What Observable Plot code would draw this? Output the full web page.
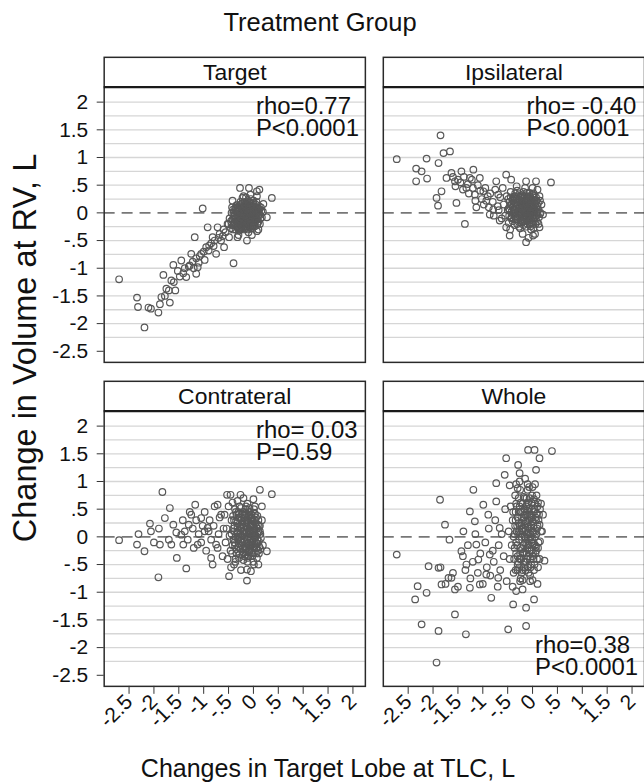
<!DOCTYPE html>
<html><head><meta charset="utf-8">
<script src="https://cdn.jsdelivr.net/npm/d3@7"></script>
<script src="https://cdn.jsdelivr.net/npm/@observablehq/plot@0.6"></script>
<style>
html,body{margin:0;padding:0;background:#fff;overflow:hidden;}
#wrap{position:relative;width:644px;height:783px;overflow:hidden;font-family:"Liberation Sans",Arial,sans-serif;color:#111;background:#fff;}
#chart{position:absolute;left:0;top:0;}
.lab{position:absolute;white-space:nowrap;line-height:1;}
#title{left:320px;top:10px;font-size:25.5px;transform:translateX(-50%);}
#xlab{left:328px;top:756px;font-size:25px;transform:translateX(-50%);}
#ylab{left:25px;top:348px;font-size:32.5px;transform:translate(-50%,-50%) rotate(-90deg);}
</style></head><body>
<div id="wrap">
  <div id="chart"></div>
  <div class="lab" id="title">Treatment Group</div>
  <div class="lab" id="xlab">Changes in Target Lobe at TLC, L</div>
  <div class="lab" id="ylab">Change in Volume at RV, L</div>
</div>
<script>
// ---- Panels (facets) ----
const panelNames = ["Target", "Ipsilateral", "Contrateral", "Whole"];
const panelCols = [0, 1, 0, 1];
const panelRows = [0, 0, 1, 1];
const rhoText = ["rho=0.77", "rho= -0.40", "rho= 0.03", "rho=0.38"];
const pText = ["P<0.0001", "P<0.0001", "P=0.59", "P<0.0001"];

// ---- Axis ticks ----
const yTicks = [-2.5, -2, -1.5, -1, -0.5, 0, 0.5, 1, 1.5, 2];
const yTickLabels = ["-2.5", "-2", "-1.5", "-1", "-.5", "0", ".5", "1", "1.5", "2"];
const xTicks = [-2.5, -2, -1.5, -1, -0.5, 0, 0.5, 1, 1.5, 2];
const xTickLabels = ["-2.5", "-2", "-1.5", "-1", "-.5", "0", ".5", "1", "1.5", "2"];

// ---- Points [x = change in target lobe at TLC, y = change in volume at RV] ----
const targetPts = [
[-2.70,-1.20],[-2.34,-1.53],[-2.32,-1.70],[-2.19,-2.07],[-2.11,-1.71],[-2.06,-1.73],[-1.91,-1.80],[-1.88,-1.65],
[-1.85,-1.52],[-1.81,-1.12],[-1.75,-1.37],[-1.68,-1.62],[-1.65,-1.22],[-1.61,-0.94],[-1.57,-1.40],[-1.45,-0.86],
[-1.41,-1.09],[-1.35,-1.16],[-1.30,-0.97],[-1.25,-0.74],[-1.18,-0.44],[-1.15,-1.10],[-1.12,-0.98],[-1.05,-0.74],
[-1.02,0.08],[-0.92,-0.26],[-0.89,-0.59],[-0.82,-0.44],[-0.75,-0.74],[-0.72,-0.26],[-0.65,-0.50],[-0.59,-0.62],
[-0.52,-0.20],[-0.49,-0.44],[-0.40,-0.91],[-0.42,0.22],[-0.32,-0.44],[-0.27,0.45],[-0.22,0.27],[-0.09,0.45],
[-0.06,0.33],[0.07,0.39],[0.12,0.42],[0.20,0.16],[0.37,0.27],[0.27,-0.08],[-0.13,-0.50],[-0.03,-0.40],[0.07,-0.33],
[-1.28,-0.95],[-1.22,-0.88],[-1.15,-0.82],[-1.08,-0.78],[-1.00,-0.70],[-0.95,-0.62],[-0.90,-0.68],[-0.85,-0.55],
[-0.80,-0.60],[-0.78,-0.50],[-0.70,-0.45],[-0.68,-0.38],[-0.62,-0.42],[-0.60,-0.30],[-0.56,-0.35],[-1.38,-1.00],
[-1.48,-1.15],[-1.52,-1.05],[-1.60,-1.25],[-1.70,-1.40],[-1.78,-1.50],[-1.20,-1.00],[-1.10,-0.90],[-0.98,-0.85],
[-0.50,-0.20],[-0.45,-0.28],[-0.42,-0.12],[-0.40,-0.22],[-0.38,-0.05],[-0.36,-0.30],[-0.35,-0.15],[-0.33,0.02],
[-0.32,-0.24],[-0.30,-0.10],[-0.29,-0.32],[-0.28,0.08],[-0.27,-0.18],[-0.25,-0.04],[-0.24,-0.26],[-0.23,0.12],
[-0.22,-0.12],[-0.21,0.00],[-0.20,-0.20],[-0.19,-0.30],[-0.18,0.05],[-0.17,-0.08],[-0.16,0.15],[-0.15,-0.16],
[-0.14,-0.02],[-0.13,-0.24],[-0.12,0.10],[-0.11,-0.10],[-0.10,0.02],[-0.09,-0.18],[-0.08,0.18],[-0.07,-0.05],
[-0.06,-0.28],[-0.05,0.08],[-0.04,-0.14],[-0.03,0.00],[-0.02,-0.22],[-0.01,0.12],[0.00,-0.08],[0.02,0.05],
[0.03,-0.18],[0.05,0.15],[0.06,-0.04],[0.08,-0.12],[0.09,0.08],[0.11,-0.02],[0.13,-0.20],[0.15,0.10],
[0.17,-0.08],[0.19,0.02],[-0.26,0.20],[-0.35,0.10],[-0.44,0.00],[-0.48,-0.10],[-0.05,0.25],[0.00,0.22],
[-0.15,0.28],[-0.10,-0.35],[0.10,-0.30],[-0.30,-0.40],[-0.20,0.30],[0.07,0.30],
[-0.38,-0.18],[-0.36,0.04],[-0.34,-0.08],[-0.31,-0.20],[-0.30,0.05],[-0.28,-0.12],[-0.26,-0.22],[-0.25,0.10],
[-0.23,-0.06],[-0.22,0.04],[-0.20,-0.14],[-0.19,0.10],[-0.18,-0.24],[-0.17,0.00],[-0.16,-0.10],[-0.15,0.06],
[-0.14,-0.20],[-0.13,0.14],[-0.12,-0.04],[-0.11,0.06],[-0.10,-0.22],[-0.09,-0.06],[-0.08,0.10],[-0.07,-0.14],
[-0.06,0.04],[-0.05,-0.20],[-0.04,0.12],[-0.03,-0.10],[-0.02,0.06],[-0.01,-0.16],[0.01,0.00],[0.02,-0.12],
[0.04,0.10],[0.05,-0.06],[0.07,0.04],[0.10,-0.16],[0.12,0.06],[-0.27,-0.02],[-0.21,-0.28],[-0.12,-0.30],
[-0.33,-0.26],[-0.45,-0.15],[-0.41,0.06],[0.14,-0.10],[-0.24,0.16],[-0.09,0.20],
[-0.44,-0.22],[-0.43,0.10],[-0.41,-0.30],[-0.39,0.00],[-0.37,-0.10],[-0.35,-0.24],[-0.34,0.14],[-0.32,-0.04],
[-0.31,0.10],[-0.29,-0.16],[-0.27,0.04],[-0.26,-0.30],[-0.24,-0.10],[-0.22,0.18],[-0.21,-0.18],[-0.20,0.08],
[-0.18,-0.06],[-0.17,0.20],[-0.16,-0.28],[-0.14,0.10],[-0.13,-0.14],[-0.12,0.02],[-0.10,0.14],[-0.09,-0.26],
[-0.08,-0.02],[-0.06,0.16],[-0.05,-0.10],[-0.04,0.04],[-0.02,-0.28],[-0.01,0.18],[0.00,-0.16],[0.01,0.08],
[0.03,-0.24],[0.04,0.02],[0.06,0.20],[0.08,-0.20],[0.09,-0.06],[0.11,0.12],[0.13,-0.04],[0.16,0.04],
[-0.40,-0.08],[-0.37,0.08],[-0.33,-0.14],[-0.30,-0.28],[-0.28,0.14],[-0.25,-0.14],[-0.23,-0.22],[-0.21,0.08],
[-0.19,-0.04],[-0.17,-0.16],[-0.15,0.00],[-0.13,0.06],[-0.11,-0.18],[-0.10,0.08],[-0.08,-0.10],[-0.07,0.02],
[-0.05,-0.02],[-0.03,0.16],[-0.02,-0.06],[0.00,0.04],[0.02,-0.04],[0.04,-0.14],[0.06,0.08],[0.08,0.00],
[0.10,0.04],[-0.26,-0.08],[-0.18,0.14],[-0.14,-0.08],[-0.06,-0.16],[0.00,-0.24]
];
const ipsiPts = [
[-2.73,0.97],[-2.34,0.80],[-2.34,0.57],[-2.23,0.75],[-2.13,0.98],[-2.12,0.62],[-1.89,0.90],[-1.85,1.40],
[-1.79,1.08],[-1.66,1.11],[-1.93,0.27],[-1.90,0.13],[-1.83,0.39],[-1.73,0.63],[-1.63,0.72],[-1.56,0.57],
[-1.53,0.18],[-1.43,0.75],[-1.36,-0.20],[-1.33,0.45],[-1.26,0.63],[-1.19,0.78],[-1.16,0.33],[-1.13,0.10],
[-1.06,0.63],[-0.99,0.39],[-0.93,0.22],[-0.86,-0.03],[-0.79,0.06],[-0.73,0.57],[-0.69,0.33],[-0.66,-0.14],
[-0.53,0.69],[-0.43,0.60],[-0.53,-0.26],[-0.46,-0.41],[-0.13,0.57],[0.07,0.57],[0.37,0.55],[-0.13,-0.53],
[0.01,-0.41],[0.21,-0.03],[0.14,-0.26],
[-1.60,0.65],[-1.55,0.48],[-1.50,0.60],[-1.45,0.55],[-1.40,0.42],[-1.38,0.65],[-1.30,0.52],[-1.28,0.35],
[-1.22,0.60],[-1.20,0.45],[-1.15,0.22],[-1.10,0.50],[-1.05,0.40],[-1.02,0.25],[-0.98,0.15],[-0.95,0.45],
[-0.90,0.30],[-0.88,0.10],[-0.85,0.35],[-0.80,0.20],[-0.78,-0.05],[-0.75,0.42],[-0.70,0.12],[-0.68,0.05],
[-0.65,0.28],[-0.62,-0.10],[-0.60,0.45],
[-0.58,0.15],[-0.55,-0.05],[-0.52,0.30],[-0.50,0.05],[-0.48,-0.18],[-0.46,0.20],[-0.44,0.38],[-0.42,-0.08],
[-0.40,0.10],[-0.38,0.28],[-0.36,-0.22],[-0.35,0.00],[-0.33,0.18],[-0.31,0.40],[-0.30,-0.12],[-0.28,0.08],
[-0.27,0.25],[-0.25,-0.28],[-0.24,0.02],[-0.22,0.14],[-0.21,0.32],[-0.20,-0.15],[-0.18,0.05],[-0.17,0.22],
[-0.16,-0.05],[-0.14,0.12],[-0.13,-0.25],[-0.12,0.36],[-0.11,0.00],[-0.10,0.18],[-0.09,-0.12],[-0.08,0.08],
[-0.07,0.28],[-0.06,-0.20],[-0.05,0.02],[-0.04,0.15],[-0.03,-0.30],[-0.02,0.25],[-0.01,-0.08],[0.00,0.10],
[0.02,0.35],[0.03,-0.15],[0.05,0.05],[0.06,0.22],[0.08,-0.05],[0.10,0.12],[0.12,-0.20],[0.14,0.30],
[0.16,0.00],[0.18,0.15],[-0.32,0.48],[-0.15,0.45],[0.00,0.45],[0.10,0.42],[-0.45,-0.30],[-0.20,-0.38],
[-0.08,-0.45],[0.05,-0.38],
[-0.43,0.15],[-0.41,-0.02],[-0.39,0.22],[-0.37,0.06],[-0.34,-0.12],[-0.32,0.26],[-0.30,0.02],[-0.29,0.15],
[-0.26,-0.06],[-0.25,0.20],[-0.23,-0.18],[-0.22,0.06],[-0.20,0.25],[-0.19,-0.08],[-0.18,0.14],[-0.16,0.30],
[-0.15,-0.15],[-0.14,0.04],[-0.13,0.20],[-0.12,-0.06],[-0.11,0.12],[-0.10,-0.20],[-0.09,0.26],[-0.08,0.00],
[-0.07,0.15],[-0.06,-0.10],[-0.05,0.30],[-0.04,0.06],[-0.03,-0.18],[-0.02,0.12],[-0.01,0.00],[0.01,0.20],
[0.02,-0.10],[0.04,0.08],[0.06,-0.20],[0.07,0.28],[0.09,0.02],[0.11,0.18],[0.13,-0.08],[-0.35,0.35],
[-0.27,-0.25],[-0.18,0.38],[0.00,0.32],[-0.48,0.08],[0.15,0.22],
[-0.49,0.25],[-0.47,-0.05],[-0.45,0.12],[-0.44,0.28],[-0.42,0.02],[-0.40,-0.15],[-0.38,0.16],[-0.36,0.30],
[-0.35,-0.06],[-0.33,0.08],[-0.31,-0.20],[-0.30,0.22],[-0.28,-0.02],[-0.27,0.34],[-0.25,0.10],[-0.24,-0.14],
[-0.22,0.28],[-0.21,-0.02],[-0.19,0.18],[-0.18,-0.22],[-0.16,0.08],[-0.15,0.24],[-0.14,-0.10],[-0.12,0.04],
[-0.11,0.30],[-0.10,-0.14],[-0.08,0.20],[-0.07,-0.04],[-0.06,0.10],[-0.04,-0.24],[-0.03,0.22],[-0.02,-0.02],
[0.00,0.16],[0.01,-0.20],[0.03,0.30],[0.05,-0.08],[0.07,0.10],[0.09,-0.16],[0.12,0.06],[0.15,-0.02],
[-0.46,0.05],[-0.43,-0.10],[-0.40,0.24],[-0.37,-0.02],[-0.34,0.14],[-0.32,-0.06],[-0.29,0.30],[-0.27,0.10],
[-0.25,0.00],[-0.23,0.20],[-0.21,0.08],[-0.19,0.30],[-0.17,-0.12],[-0.15,0.10],[-0.13,0.00],[-0.12,0.18],
[-0.10,0.06],[-0.08,-0.08],[-0.07,0.22],[-0.05,-0.14],[-0.03,0.10],[-0.01,0.24],[0.01,0.04],[0.03,-0.04],
[0.05,0.16],[0.08,0.22],[0.10,-0.02],[-0.20,-0.06],[-0.06,0.36],[0.02,-0.28]
];
const contraPts = [
[-2.70,-0.06],[-2.34,-0.14],[-2.31,0.05],[-2.19,-0.26],[-2.08,0.24],[-2.06,0.10],[-1.91,-0.73],[-1.88,-0.14],
[-1.83,0.81],[-1.78,0.34],[-1.68,0.52],[-1.65,-0.14],[-1.61,0.22],[-1.54,-0.38],[-1.45,0.04],[-1.41,-0.14],
[-1.35,-0.57],[-1.30,0.22],[-1.25,0.40],[-1.17,0.58],[-1.12,-0.14],[-1.05,0.34],[-0.98,0.10],[-0.92,0.16],
[-0.85,-0.38],[-0.82,-0.50],[-0.75,-0.14],[-0.72,0.58],[-0.65,0.40],[-0.53,0.76],[-0.49,-0.71],[-0.46,0.76],
[-0.26,0.76],[-0.13,-0.79],[-0.13,-0.59],[0.13,0.85],[0.37,0.77],[0.17,0.55],[0.27,-0.26],[0.01,-0.50],[-0.39,-0.50],
[-1.42,0.30],[-1.38,0.10],[-1.32,-0.05],[-1.28,0.45],[-1.22,0.15],[-1.20,-0.20],[-1.15,0.30],[-1.10,0.05],
[-1.05,-0.10],[-1.02,0.20],[-0.98,0.45],[-0.95,-0.25],[-0.90,0.10],[-0.88,0.30],[-0.85,-0.05],[-0.80,0.20],
[-0.78,0.55],[-0.72,-0.20],[-0.70,0.05],[-0.68,0.35],[-0.62,-0.35],[-0.60,0.15],[-1.55,0.08],[-1.70,-0.05],
[-1.90,0.15],[-2.00,-0.10],
[-0.58,0.40],[-0.56,-0.10],[-0.54,0.15],[-0.52,-0.40],[-0.50,0.55],[-0.48,0.02],[-0.46,-0.25],[-0.44,0.30],
[-0.42,0.62],[-0.40,-0.05],[-0.38,0.20],[-0.36,-0.45],[-0.35,0.45],[-0.33,0.08],[-0.31,-0.18],[-0.30,0.35],
[-0.28,-0.32],[-0.27,0.00],[-0.25,0.52],[-0.24,0.15],[-0.22,-0.10],[-0.21,0.28],[-0.20,-0.42],[-0.18,0.05],
[-0.17,0.40],[-0.16,-0.22],[-0.14,0.18],[-0.13,-0.05],[-0.12,0.60],[-0.11,0.30],[-0.10,-0.35],[-0.09,0.10],
[-0.08,-0.15],[-0.07,0.45],[-0.06,0.00],[-0.05,0.22],[-0.04,-0.28],[-0.03,0.35],[-0.02,-0.08],[-0.01,0.12],
[0.00,-0.45],[0.01,0.50],[0.02,-0.20],[0.04,0.25],[0.05,0.02],[0.07,-0.12],[0.08,0.38],[0.10,0.10],
[0.11,-0.30],[0.13,0.20],[0.15,-0.02],[0.17,0.30],[0.19,-0.15],[-0.32,0.65],[-0.20,0.70],[0.00,0.68],
[-0.45,-0.55],[-0.25,-0.60],[-0.05,-0.62],[0.10,-0.50],
[-0.39,0.10],[-0.37,-0.15],[-0.35,0.28],[-0.34,-0.30],[-0.32,0.18],[-0.30,-0.05],[-0.29,0.42],[-0.27,0.12],
[-0.26,-0.22],[-0.24,0.30],[-0.23,0.02],[-0.22,-0.32],[-0.20,0.18],[-0.19,-0.08],[-0.18,0.35],[-0.17,-0.18],
[-0.15,0.08],[-0.14,0.42],[-0.13,-0.28],[-0.12,0.15],[-0.11,-0.12],[-0.10,0.25],[-0.09,0.00],[-0.08,0.38],
[-0.07,-0.22],[-0.06,0.12],[-0.05,-0.05],[-0.04,0.30],[-0.03,-0.15],[-0.02,0.05],[-0.01,0.20],[0.01,-0.30],
[0.02,0.15],[0.03,-0.02],[0.05,0.35],[0.06,-0.20],[0.08,0.05],[0.09,0.22],[0.11,-0.08],[0.13,0.10],
[0.14,-0.22],[-0.28,0.55],[-0.15,0.55],[0.03,0.55],[-0.36,-0.40],[-0.12,-0.45],[0.07,-0.38],
[-0.44,0.05],[-0.43,-0.30],[-0.41,0.38],[-0.40,0.15],[-0.38,-0.10],[-0.37,0.50],[-0.35,-0.22],[-0.33,0.25],
[-0.32,-0.02],[-0.30,0.45],[-0.29,-0.38],[-0.27,0.20],[-0.26,0.05],[-0.24,-0.15],[-0.23,0.40],[-0.21,0.10],
[-0.20,-0.28],[-0.18,0.25],[-0.17,0.00],[-0.16,0.50],[-0.14,-0.12],[-0.13,0.30],[-0.12,-0.38],[-0.10,0.05],
[-0.09,0.45],[-0.08,-0.25],[-0.06,0.20],[-0.05,-0.15],[-0.04,0.40],[-0.02,-0.35],[-0.01,0.28],[0.00,0.02],
[0.02,-0.12],[0.03,0.42],[0.05,-0.30],[0.06,0.18],[0.08,-0.05],[0.10,0.30],[0.12,-0.18],[0.14,0.05],
[-0.42,-0.15],[-0.39,0.30],[-0.36,0.00],[-0.34,0.40],[-0.31,0.08],[-0.29,-0.12],[-0.27,0.35],[-0.25,-0.05],
[-0.23,0.22],[-0.21,-0.20],[-0.19,0.45],[-0.17,0.12],[-0.15,-0.32],[-0.14,0.25],[-0.12,-0.02],[-0.10,0.38],
[-0.09,-0.20],[-0.07,0.08],[-0.05,0.32],[-0.04,-0.10],[-0.02,0.22],[0.00,-0.18],[0.01,0.08],[0.03,0.30],
[0.05,-0.10],[0.07,0.15],[0.09,-0.25],[0.11,0.20],[-0.18,-0.35],[-0.08,0.52]
];
const wholePts = [
[-2.73,-0.32],[-2.36,-1.13],[-2.31,-0.89],[-2.23,-1.58],[-2.13,-1.01],[-2.09,-0.53],[-1.93,-2.27],[-1.89,-1.70],
[-1.89,-0.56],[-1.86,0.67],[-1.83,-0.86],[-1.76,0.22],[-1.69,-0.74],[-1.67,-0.05],[-1.63,-0.74],[-1.56,-0.95],
[-1.56,-1.40],[-1.43,-0.26],[-1.39,0.10],[-1.34,-1.76],[-1.33,-0.50],[-1.26,0.46],[-1.26,-0.92],[-1.19,0.85],
[-1.16,0.28],[-1.13,-0.14],[-1.09,-0.41],[-1.06,-0.86],[-0.99,0.58],[-0.93,-0.68],[-0.89,0.40],[-0.86,-0.32],
[-0.83,-1.10],[-0.73,0.97],[-0.73,0.64],[-0.69,-0.74],[-0.66,0.16],[-0.56,1.12],[-0.53,1.42],[-0.49,-1.67],
[-0.46,0.93],[-0.39,-1.22],[-0.33,-0.98],[-0.29,1.30],[-0.26,1.15],[-0.13,-1.61],[-0.13,-1.28],[-0.09,1.57],
[0.04,1.57],[0.07,1.21],[0.14,1.42],[0.03,-1.13],[0.39,1.55],[0.21,0.40],[0.24,-0.43],[0.17,0.10],
[-1.40,-0.35],[-1.35,-0.60],[-1.30,-0.15],[-1.25,-0.75],[-1.20,-0.45],[-1.15,0.05],[-1.10,-0.65],[-1.05,-0.30],
[-1.00,-0.85],[-0.95,-0.10],[-0.92,-0.55],[-0.88,0.15],[-0.85,-0.70],[-0.80,-0.25],[-0.78,-0.45],[-0.75,0.30],
[-0.70,-0.90],[-0.68,-0.15],[-0.65,-0.60],[-0.62,0.05],[-0.58,-0.35],[-0.55,0.50],[-0.52,-0.80],[-1.60,-0.65],
[-1.75,-0.85],[-1.50,-0.90],[-1.85,-0.55],
[-0.48,0.10],[-0.46,-0.40],[-0.44,0.55],[-0.42,-0.15],[-0.40,0.30],[-0.38,-0.65],[-0.36,0.05],[-0.35,0.75],
[-0.33,-0.30],[-0.31,0.20],[-0.30,-0.50],[-0.28,0.45],[-0.27,-0.05],[-0.25,0.85],[-0.24,-0.75],[-0.22,0.12],
[-0.21,-0.22],[-0.20,0.60],[-0.18,-0.45],[-0.17,0.35],[-0.16,0.00],[-0.14,-0.60],[-0.13,0.25],[-0.12,0.70],
[-0.11,-0.12],[-0.10,0.48],[-0.09,-0.35],[-0.08,0.08],[-0.07,0.90],[-0.06,-0.25],[-0.05,0.38],[-0.04,-0.55],
[-0.03,0.15],[-0.02,0.62],[-0.01,-0.05],[0.00,-0.78],[0.01,0.28],[0.02,-0.40],[0.04,0.50],[0.05,0.00],
[0.07,-0.18],[0.08,0.75],[0.10,0.20],[0.11,-0.55],[0.13,0.40],[0.15,-0.08],[0.17,0.60],[0.19,0.10],
[-0.26,1.00],[-0.15,1.05],[0.05,0.95],[-0.40,-0.90],[-0.20,-0.95],[0.10,-0.85],[-0.33,0.95],
[-0.34,0.30],[-0.33,-0.10],[-0.32,0.55],[-0.30,-0.35],[-0.29,0.05],[-0.28,0.70],[-0.27,-0.55],[-0.26,0.20],
[-0.25,-0.20],[-0.24,0.45],[-0.23,-0.40],[-0.22,0.00],[-0.21,0.35],[-0.20,-0.60],[-0.19,0.15],[-0.18,0.72],
[-0.17,-0.28],[-0.16,0.50],[-0.15,-0.10],[-0.14,0.28],[-0.13,-0.45],[-0.12,0.05],[-0.11,0.58],[-0.10,-0.20],
[-0.09,0.30],[-0.08,-0.65],[-0.07,0.15],[-0.06,0.52],[-0.05,-0.40],[-0.04,0.00],[-0.03,0.40],[-0.02,-0.25],
[-0.01,0.75],[0.01,-0.12],[0.02,0.20],[0.03,-0.60],[0.05,0.60],[0.06,-0.30],[0.08,0.05],[0.09,0.42],
[0.11,-0.20],[0.12,0.30],[0.14,-0.40],[0.15,0.50],[-0.30,0.88],[-0.10,0.85],[0.00,0.90],[-0.25,-0.80],
[-0.05,-0.80],
[-0.39,0.45],[-0.38,0.00],[-0.37,-0.40],[-0.35,0.20],[-0.34,-0.60],[-0.33,0.60],[-0.31,-0.15],[-0.30,0.35],
[-0.29,-0.45],[-0.27,0.10],[-0.26,0.55],[-0.25,-0.30],[-0.23,0.25],[-0.22,-0.65],[-0.20,0.05],[-0.19,0.45],
[-0.18,-0.15],[-0.16,0.70],[-0.15,-0.45],[-0.14,0.12],[-0.12,-0.30],[-0.11,0.40],[-0.10,-0.55],[-0.09,0.62],
[-0.07,-0.05],[-0.06,0.32],[-0.05,-0.70],[-0.03,0.22],[-0.02,-0.10],[-0.01,0.50],[0.00,-0.35],[0.02,0.08],
[0.03,0.68],[0.04,-0.50],[0.06,0.35],[0.07,-0.25],[0.09,0.15],[0.10,0.55],[0.12,-0.10],[0.14,0.22],
[-0.36,-0.20],[-0.34,0.45],[-0.32,0.10],[-0.30,-0.60],[-0.28,0.25],[-0.26,-0.40],[-0.24,0.62],[-0.22,0.20],
[-0.20,-0.30],[-0.19,0.30],[-0.17,-0.55],[-0.15,0.40],[-0.14,-0.02],[-0.12,0.55],[-0.11,-0.40],[-0.09,0.18],
[-0.08,-0.15],[-0.06,0.70],[-0.05,0.05],[-0.03,-0.50],[-0.02,0.35],[0.00,0.10],[0.01,-0.30],[0.03,0.45],
[0.05,-0.15],[0.07,0.30],[0.09,-0.40],[0.11,0.62],[-0.10,0.95],[-0.20,-0.78]
];

// ---- Build tables for the library ----
const pointSets = [targetPts, ipsiPts, contraPts, wholePts];
const points = [];
pointSets.forEach((pts, i) => pts.forEach(([x, y]) => points.push({col: panelCols[i], row: panelRows[i], x, y})));
const panels = panelNames.map((name, i) => ({name, col: panelCols[i], row: panelRows[i], stat: rhoText[i] + "\n" + pText[i]}));

// ---- Layout (pixels) ----
const W = 646, H = 783, ML = 104, MT = 57, MB = 94;
const gapX = 18, gapY = 19, stripH = 30;
const cellW = (W - ML - gapX) / 2;
const cellH = (H - MT - MB - gapY) / 2;       // strip + plotting area
const plotH = cellH - stripH;
const padX = gapX / (cellW + gapX);
const padY = gapY / (cellH + gapY);
const yMin = -2.7, yTop = 2.27;               // plotting area extent
const yStrip = yTop + stripH * (yTop - yMin) / plotH;  // strip occupies the top of each cell
const xDom = [-3, 2.25];
const font = "Liberation Sans, Arial, sans-serif";
const statX = d => (d.name === "Ipsilateral" ? -0.12 : 0.05);

const chart = Plot.plot({
  width: W, height: H,
  marginLeft: ML, marginRight: 0, marginTop: MT, marginBottom: MB,
  style: {fontFamily: font, background: "white", color: "#111"},
  x: {domain: xDom},
  y: {domain: [yMin, yStrip]},
  fx: {domain: [0, 1], paddingInner: padX, paddingOuter: 0, axis: null},
  fy: {domain: [0, 1], paddingInner: padY, paddingOuter: 0, axis: null},
  marks: [
    Plot.ruleY(d3.range(-2.25, 2.01, 0.25).filter(v => Math.abs(v) > 1e-9), {stroke: "#d6d6d6", strokeWidth: 1.3}),
    Plot.ruleY([0], {stroke: "#777", strokeWidth: 1.6, strokeDasharray: "11,7"}),
    Plot.dot(points, {x: "x", y: "y", fx: "col", fy: "row", r: 3.3, stroke: "#585858", strokeWidth: 1.2, fill: "none"}),
    Plot.frame({stroke: "#2a2a2a", strokeWidth: 1.5}),
    Plot.ruleY([yTop], {stroke: "#1a1a1a", strokeWidth: 2.2}),
    Plot.text(panels, {fx: "col", fy: "row", text: "name", y: () => (yTop + yStrip) / 2, fontSize: 23, fill: "#111"}),
    Plot.text(panels.filter(d => d.name !== "Whole"), {
      fx: "col", fy: "row", x: statX, text: "stat", frameAnchor: "top", lineAnchor: "top",
      textAnchor: "start", dy: stripH + 11, fontSize: 24, lineHeight: 0.93, fill: "#111"
    }),
    Plot.text(panels.filter(d => d.name === "Whole"), {
      fx: "col", fy: "row", x: statX, text: "stat", frameAnchor: "bottom", lineAnchor: "bottom",
      textAnchor: "start", dy: -11, fontSize: 24, lineHeight: 0.93, fill: "#111"
    }),
    Plot.axisY({ticks: yTicks, tickFormat: d => yTickLabels[yTicks.indexOf(d)], tickSize: 7, tickPadding: 9,
      fontSize: 21, label: null, stroke: "#333"}),
    Plot.axisX({ticks: xTicks, tickFormat: d => xTickLabels[xTicks.indexOf(d)], tickRotate: -45, tickSize: 8,
      tickPadding: 4, fontSize: 21, label: null, stroke: "#333"})
  ]
});
document.getElementById("chart").appendChild(chart);
</script>
</body></html>
